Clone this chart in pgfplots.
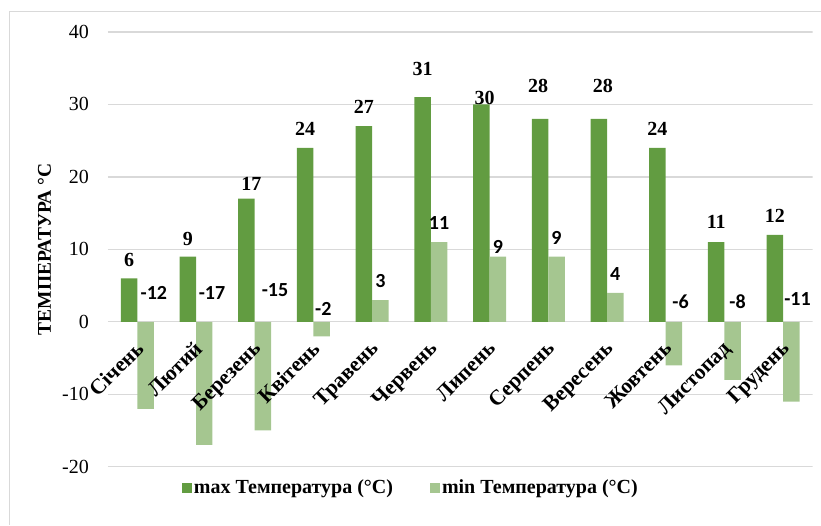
\documentclass[border=0pt]{standalone}
\usepackage{fontspec}
\setmainfont{Liberation Serif}
\newfontfamily\calibri{Carlito}
\usepackage{pgfplots}
\usepackage{pgfplotstable}
\pgfplotsset{compat=1.18}
\definecolor{maxgreen}{HTML}{629C41}
\definecolor{mingreen}{HTML}{A5C690}
\definecolor{gridgray}{HTML}{D9D9D9}

% x, value, label shift (pt), label text
\pgfplotstableread{
x val dx dy lab
0 6 0 18.6 6
1 9 0 17.8 9
2 17 5 14.4 17
3 24 0 19 24
4 27 0 19.5 27
5 31 0 28.6 31
6 30 3.4 6.3 30
7 28 -2 32.8 28
8 28 4 32.8 28
9 24 0 19 24
10 11 0 20 11
11 12 0 18.6 12
}\maxdata

\pgfplotstableread{
x val dx dy lab
0 -12 8.4 115.9 -12
1 -17 7.7 152.1 -17
2 -15 12 140.6 -15
3 -2 1.6 27 -2
4 3 0 19.3 3
5 11 0 19.4 11
6 9 0 9.3 9
7 9 0 18.5 9
8 4 0 18.5 4
9 -6 6.6 63.4 -6
10 -8 4.9 77.9 -8
11 -11 6.1 102.6 -11
}\mindata

\pgfplotsset{
  sqlegend/.style={legend image code/.code={\fill[##1, draw=none] (0pt,-5pt) rectangle (10pt,5pt);}},
}

\begin{document}
\begin{tikzpicture}
\path (-108pt,-58pt) rectangle (713pt,467pt);
\draw[gridgray, line width=1pt] (-98pt,-58pt) -- (-98pt,455.5pt) -- (713pt,455.5pt);
\begin{axis}[
  axis on top,
  at={(0pt,0pt)}, anchor=south west,
  scale only axis, width=705pt, height=435pt,
  xmin=-0.5, xmax=11.5, ymin=-20, ymax=40,
  xtick={0,...,11}, ytick={-20,-10,...,40},
  xticklabels={Січень,Лютий,Березень,Квітень,Травень,Червень,Липень,Серпень,Вересень,Жовтень,Листопад,Грудень},
  xticklabel style={font=\fontsize{21.5}{24}\selectfont\bfseries, yshift=132pt, xshift=-3pt, rotate=45, anchor=north east},
  yticklabel style={font=\fontsize{20}{24}\selectfont, anchor=east, inner sep=0pt, xshift=-19pt},
  /pgf/number format/assume math mode=true,
  axis line style={draw=none}, major tick length=0pt,
  ylabel={ТЕМПЕРАТУРА °C},
  ylabel style={font=\fontsize{19.5}{22}\selectfont\bfseries, at={(axis description cs:-0.0901,0.5)}, anchor=center},
  ybar, bar width=16.5pt,
  legend style={at={(axis description cs:0.43,-0.048)}, anchor=center, draw=none, fill=none,
    legend columns=2, font=\fontsize{20}{24}\selectfont\bfseries,
    /tikz/every even column/.append style={column sep=35pt}},
]
% gridlines behind the bars
\pgfplotsinvokeforeach{-20,-10,0,10,20,30,40}{
  \draw[gridgray, line width=1.3pt] (axis cs:-0.5,#1) -- (axis cs:11.5,#1);
}
\addplot[fill=maxgreen, draw=none, bar shift=-8.25pt, sqlegend,
  point meta=explicit symbolic,
  nodes near coords, nodes near coords align={center},
  visualization depends on={\thisrow{dx}\as\dx},
  visualization depends on={\thisrow{dy}\as\dy},
  every node near coord/.append style={font=\fontsize{20}{24}\selectfont\bfseries, text=black, anchor=center, xshift=\dx pt, yshift=\dy pt}]
  table[x=x, y=val, meta=lab] {\maxdata};
\addlegendentry{max Температура (°C)}
\addplot[fill=mingreen, draw=none, bar shift=8.25pt, sqlegend,
  point meta=explicit symbolic,
  nodes near coords, nodes near coords align={center},
  visualization depends on={\thisrow{dx}\as\dx},
  visualization depends on={\thisrow{dy}\as\dy},
  every node near coord/.append style={font=\calibri\fontsize{20}{24}\selectfont\bfseries, text=black, anchor=center, xshift=\dx pt, yshift=\dy pt}]
  table[x=x, y=val, meta=lab] {\mindata};
\addlegendentry{min Температура (°C)}
\end{axis}
\end{tikzpicture}
\end{document}
